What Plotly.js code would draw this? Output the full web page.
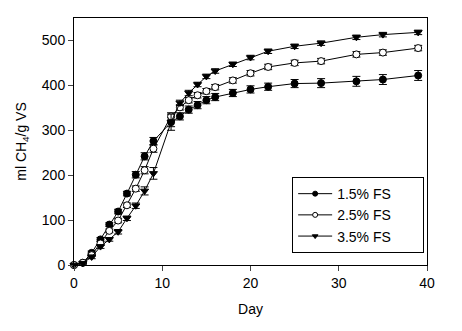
<!DOCTYPE html>
<html>
<head>
<meta charset="utf-8">
<script src="https://cdn.plot.ly/plotly-3.0.1.min.js"></script>
<style>html,body{margin:0;padding:0;background:#fff;}#chart{width:462px;height:331px;}</style>
</head>
<body>
<div id="chart"></div>
<script>
var days = [0,1,2,3,4,5,6,7,8,9,11,12,13,14,15,16,18,20,22,25,28,32,35,39];
var fs15 = [0,5,27,57,90,119,159,201,242,276,318,331,346,356,367,374,383,391,397,404,405,409,413,422];
var fs25 = [0,5,22,48,76,99,133,170,211,259,331,351,367,378,387,396,411,427,441,450,454,469,473,483];
var fs35 = [0,4,18,41,57,74,104,132,165,204,318,361,383,402,420,432,447,462,476,487,494,507,513,518];
var err15 = [0,2,4,4,4,5,5,7,8,8,10,8,8,8,8,8,8,8,8,9,10,11,11,11];
var err25 = [0,2,3,4,4,5,5,6,8,8,8,6,6,6,6,6,6,6,6,6,6,6,6,6];
var err35 = [0,2,4,4,4,5,5,6,9,13,18,6,6,5,5,5,5,5,5,5,5,5,5,5];
var names = ["1.5% FS","2.5% FS","3.5% FS"];
var symbols = ['circle','circle','triangle-down'];
var fills = ['#000','#fff','#000'];
var series = [fs15, fs25, fs35];
var errs = [err15, err25, err35];

var data = [];
for (var i = 0; i < 3; i++) {
  data.push({
    x: days, y: series[i], name: names[i], type: 'scatter', mode: 'lines+markers',
    cliponaxis: false, showlegend: false,
    line: {color: '#000', width: 1},
    marker: {symbol: symbols[i], size: 7, color: fills[i], line: {color: '#000', width: 1}},
    error_y: {type: 'data', array: errs[i], visible: true, color: '#000', thickness: 1, width: 4}
  });
}
// legend proxies (smaller legend symbols, as in the reference)
var pad = '\u00a0\u00a0\u00a0\u00a0\u00a0\u00a0\u00a0';
for (var j = 0; j < 3; j++) {
  data.push({
    x: [null], y: [null], name: names[j] + pad, type: 'scatter', mode: 'lines+markers',
    showlegend: true, hoverinfo: 'skip',
    line: {color: '#000', width: 1},
    marker: {symbol: symbols[j], size: 5, color: fills[j], line: {color: '#000', width: 1}}
  });
}
var layout = {
  width: 462, height: 331,
  margin: {l: 74, r: 35, t: 18, b: 66},
  paper_bgcolor: '#fff', plot_bgcolor: '#fff',
  font: {family: 'Liberation Sans, Arial, sans-serif', size: 14, color: '#000'},
  showlegend: true,
  legend: {x: 0.618, y: 0.356, xanchor: 'left', yanchor: 'top',
    bordercolor: '#000', borderwidth: 1, bgcolor: '#fff',
    font: {size: 14}, tracegroupgap: 0, itemwidth: 34},
  xaxis: {range: [0, 40], tickvals: [0,10,20,30,40], ticks: 'outside', ticklen: 5,
    showline: true, linecolor: '#000', linewidth: 1, mirror: true, automargin: false,
    showgrid: false, zeroline: false, tickfont: {size: 14},
    title: {text: 'Day', font: {size: 14}, standoff: 14}},
  yaxis: {range: [0, 550], tickvals: [0,100,200,300,400,500], ticks: 'outside', ticklen: 5,
    showline: true, linecolor: '#000', linewidth: 1, mirror: true, automargin: false,
    showgrid: false, zeroline: false, tickfont: {size: 14},
    title: {text: 'ml CH<sub>4</sub>/g VS', font: {size: 14}, standoff: 11}}
};
Plotly.newPlot('chart', data, layout, {displayModeBar: false, staticPlot: true});
</script>
</body>
</html>
